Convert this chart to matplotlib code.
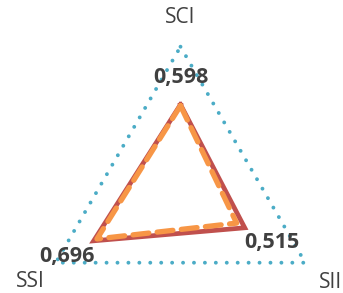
import numpy as np
import matplotlib
matplotlib.use("Agg")
import matplotlib.pyplot as plt

categories = ["SCI", "SII", "SSI"]
series_red = [0.598, 0.515, 0.696]
series_orange = [0.59, 0.45, 0.67]
value_labels = ["0,598", "0,515", "0,696"]
axis_max = 1.0

# angles: SCI at top, then clockwise
angles = np.deg2rad([90, -30, 210])


def to_xy(vals):
    vals = np.asarray(vals, dtype=float)
    x = vals * np.cos(angles)
    y = vals * np.sin(angles)
    return np.append(x, x[0]), np.append(y, y[0])


fig = plt.figure(figsize=(3.43, 2.93), dpi=100)
ax = fig.add_axes([0, 0, 1, 1])
ax.set_xlim(-1.2535, 1.1285)
ax.set_ylim(-0.7104, 1.3243)
ax.axis("off")

txt = "#404040"
font = "Open Sans"

ox, oy = to_xy([axis_max] * 3)
ax.plot(ox, oy, color="#4BACC6", lw=2.8, ls=(0, (0.01, 2.8)),
        dash_capstyle="round", solid_capstyle="round")

rx, ry = to_xy(series_red)
ax.plot(rx, ry, color="#C0504D", lw=3.4, solid_joinstyle="miter")

gx, gy = to_xy(series_orange)
ax.plot(gx, gy, color="#F79646", lw=3.8, ls=(0, (3.0, 1.6)),
        dash_capstyle="round")

# value labels
ax.text(0, 0.783, value_labels[0], ha="center", va="center", fontsize=15.5,
        fontweight="bold", color=txt, family=font)
ax.text(0.635, -0.363, value_labels[1], ha="center", va="center", fontsize=15.5,
        fontweight="bold", color=txt, family=font)
ax.text(-0.788, -0.46, value_labels[2], ha="center", va="center", fontsize=15.5,
        fontweight="bold", color=txt, family=font)

# category labels
ax.text(0, 1.206, categories[0], ha="center", va="center", fontsize=15,
        color=txt, family=font)
ax.text(1.04, -0.64, categories[1], ha="center", va="center", fontsize=15,
        color=txt, family=font)
ax.text(-1.045, -0.634, categories[2], ha="center", va="center", fontsize=15,
        color=txt, family=font)

fig.savefig("out.png", dpi=100)
